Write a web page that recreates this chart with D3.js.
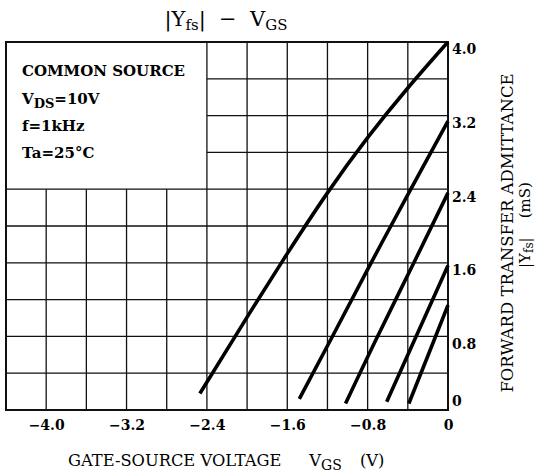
<!DOCTYPE html>
<html>
<head>
<meta charset="utf-8">
<script src="https://cdn.jsdelivr.net/npm/d3@7"></script>
<style>
  body { margin: 0; background: #fff; }
  svg { display: block; font-family: "DejaVu Serif", "Liberation Serif", serif; }
</style>
</head>
<body>
<div id="chart"></div>
<script>
// tick labels
const vgsTicks = [-4.0, -3.2, -2.4, -1.6, -0.8, 0]
const yfsTicks = [0, 0.8, 1.6, 2.4, 3.2, 4.0]

// |Yfs| curves, [VGS (V), |Yfs| (mS)]
const curveA = [[-2.47, 0.18], [-2.0, 1.01], [-1.6, 1.70], [-1.2, 2.36], [-0.8, 2.96], [-0.4, 3.50], [0, 4.0]]
const curveB = [[-1.48, 0.12], [-1.16, 0.78], [-0.78, 1.57], [-0.37, 2.40], [0, 3.14]]
const curveC = [[-1.02, 0.07], [-0.71, 0.78], [-0.34, 1.60], [0, 2.36]]
const curveD = [[-0.61, 0.09], [-0.33, 0.77], [0, 1.57]]
const curveE = [[-0.39, 0.07], [-0.20, 0.59], [0, 1.14]]
const curves = [curveA, curveB, curveC, curveD, curveE]

// conditions box
const conditions = ["COMMON SOURCE", "VDS=10V", "f=1kHz", "Ta=25°C"]

let width = 537
let height = 473
let margin = { top: 42, right: 89, bottom: 63, left: 6 }

let svg = d3.select("#chart").append("svg")
  .attr("width", width)
  .attr("height", height)

let x = d3.scaleLinear().domain([-4.4, 0]).range([margin.left, width - margin.right])
let y = d3.scaleLinear().domain([0, 4.0]).range([height - margin.bottom, margin.top])

// grid, left out inside the conditions box (VGS < -2.4, |Yfs| > 2.4)
let grid = svg.append("g").attr("stroke", "#111").attr("stroke-width", 1.3)
let xGrid = d3.range(1, 11).map(i => -4.4 + i * 0.4)
let yGrid = d3.range(1, 10).map(i => i * 0.4)

grid.selectAll(".vx")
  .data(xGrid)
  .enter().append("line")
  .attr("x1", d => x(d)).attr("x2", d => x(d))
  .attr("y1", y(0))
  .attr("y2", d => d < -2.45 ? y(2.4) : y(4.0))

grid.selectAll(".hy")
  .data(yGrid)
  .enter().append("line")
  .attr("y1", d => y(d)).attr("y2", d => y(d))
  .attr("x2", x(0))
  .attr("x1", d => d > 2.45 ? x(-2.4) : x(-4.4))

svg.append("rect")
  .attr("x", x(-4.4)).attr("y", y(4.0))
  .attr("width", x(0) - x(-4.4)).attr("height", y(0) - y(4.0))
  .attr("fill", "none").attr("stroke", "#111").attr("stroke-width", 2)

// curves
let line = d3.line()
  .x(d => x(d[0]))
  .y(d => y(d[1]))
  .curve(d3.curveNatural)

svg.selectAll(".curve")
  .data(curves)
  .enter().append("path")
  .attr("class", "curve")
  .attr("d", line)
  .attr("fill", "none")
  .attr("stroke", "#000")
  .attr("stroke-width", 3.6)

// axes
let xAxis = svg.append("g")
  .attr("transform", "translate(0," + y(0) + ")")
  .call(d3.axisBottom(x).tickValues(vgsTicks).tickSize(0).tickPadding(10)
    .tickFormat(d => d === 0 ? "0" : "\u2212" + Math.abs(d).toFixed(1)))
xAxis.select(".domain").remove()
xAxis.selectAll("text")
  .attr("fill", "#000")
  .style("font-family", "DejaVu Serif")
  .style("font-size", "14px")
  .style("font-weight", "bold")

let yAxis = svg.append("g")
  .attr("transform", "translate(" + x(0) + ",0)")
  .call(d3.axisRight(y).tickValues(yfsTicks).tickSize(0).tickPadding(4)
    .tickFormat(d => d === 0 ? "0" : d.toFixed(1)))
yAxis.select(".domain").remove()
yAxis.selectAll("text")
  .attr("fill", "#000")
  .attr("dy", d => d === 0 ? "-0.35em" : "0.85em")
  .style("font-family", "DejaVu Serif")
  .style("font-size", "14px")
  .style("font-weight", "bold")

// conditions text
let box = svg.append("g")
  .style("font-size", "15px")
  .style("font-weight", "bold")
  .attr("fill", "#000")

box.append("text").attr("x", 22).attr("y", 76).text(conditions[0])
let vds = box.append("text").attr("x", 22).attr("y", 104)
vds.append("tspan").text(conditions[1].slice(0, 1))
vds.append("tspan").attr("dy", 4).style("font-size", "13px").text(conditions[1].slice(1, 3))
vds.append("tspan").attr("dy", -4).text(conditions[1].slice(3))
box.append("text").attr("x", 22).attr("y", 131).text(conditions[2])
box.append("text").attr("x", 22).attr("y", 158).text(conditions[3])

// title
let title = svg.append("text")
  .attr("x", 226).attr("y", 26)
  .attr("text-anchor", "middle")
  .attr("xml:space", "preserve")
  .style("font-size", "21px")
title.append("tspan").text("|Y")
title.append("tspan").attr("dy", 4).style("font-size", "15px").text("fs")
title.append("tspan").attr("dy", -4).text("|  \u2212  V")
title.append("tspan").attr("dy", 4).style("font-size", "15px").text("GS")

// x title
let xTitle = svg.append("text")
  .attr("x", 68).attr("y", 466)
  .style("font-size", "16.3px")
xTitle.append("tspan").text("GATE-SOURCE VOLTAGE")
xTitle.append("tspan").attr("dx", 28).text("V")
xTitle.append("tspan").attr("dy", 4).style("font-size", "14px").text("GS")
xTitle.append("tspan").attr("dx", 18).attr("dy", -4).text("(V)")

// y title
let yTitle = svg.append("g")
  .attr("transform", "translate(513,233) rotate(-90)")
  .style("font-size", "16.5px")
yTitle.append("text")
  .attr("text-anchor", "middle")
  .text("FORWARD TRANSFER ADMITTANCE")
let yTitle2 = yTitle.append("text")
  .attr("x", 8).attr("y", 17)
  .attr("text-anchor", "middle")
  .attr("xml:space", "preserve")
  .style("font-size", "15px")
yTitle2.append("tspan").text("|Y")
yTitle2.append("tspan").attr("dy", 3).style("font-size", "12px").text("fs")
yTitle2.append("tspan").attr("dy", -3).text("|    (mS)")
</script>
</body>
</html>
